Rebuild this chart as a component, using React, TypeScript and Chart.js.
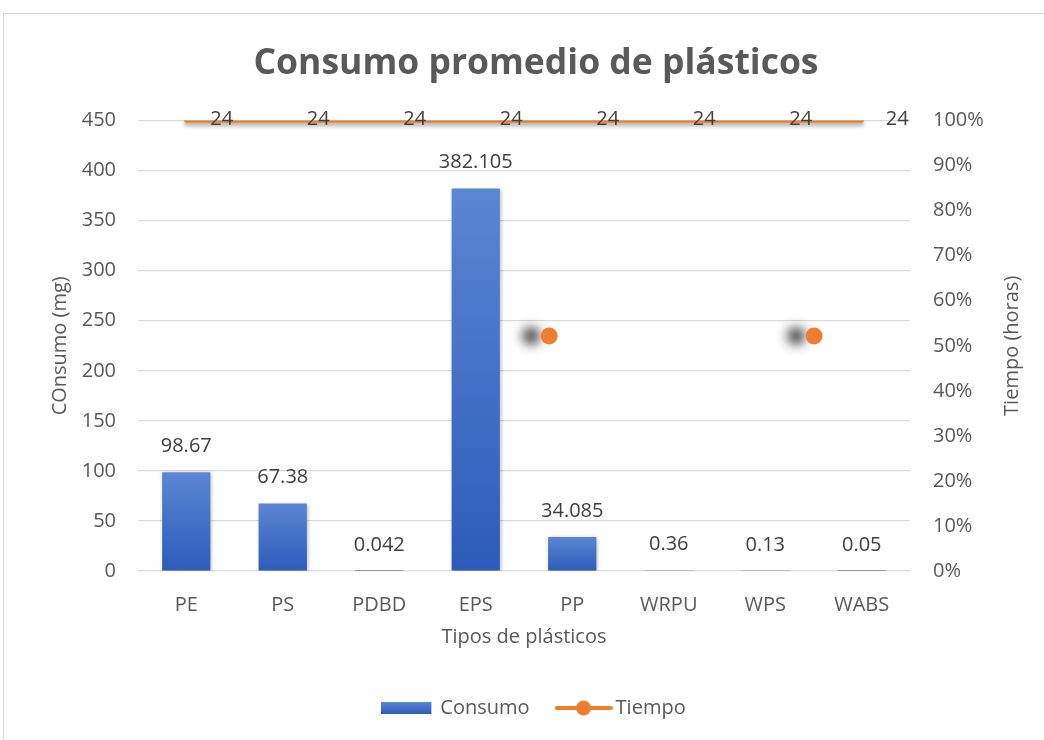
import React, { useEffect, useRef } from 'react';
import { Chart, registerables } from 'chart.js';

Chart.register(...registerables);

// ---- data ----
const categories = ['PE', 'PS', 'PDBD', 'EPS', 'PP', 'WRPU', 'WPS', 'WABS'];
const consumo = [98.67, 67.38, 0.042, 382.105, 34.085, 0.36, 0.13, 0.05];
const tiempo = [24, 24, 24, 24, 24, 24, 24, 24];
// stray markers visible in the picture (category-position, right-axis fraction)
const strayX = [3.79, 6.84];
const strayY = [0.522, 0.522];

const leftMin = 0;
const leftMax = 450;
const leftStep = 50;
const rightMin = 0;
const rightMax = 1;
const rightStep = 0.1;

const FONT = "'Open Sans', sans-serif";
const TEXT = '#595959';
const LABEL = '#404040';
const ORANGE = '#ED7D31';
const BLUE_TOP = '#5B86D3';
const BLUE_BOTTOM = '#2D5BB9';

const shadowPlugin = {
  id: 'dsShadow',
  beforeDatasetDraw(chart: any, args: any) {
    const s = chart.data.datasets[args.index]?.shadow;
    if (!s) return;
    const ctx = chart.ctx;
    ctx.save();
    ctx.shadowColor = s.color;
    ctx.shadowBlur = s.blur;
    ctx.shadowOffsetX = s.x;
    ctx.shadowOffsetY = s.y;
  },
  afterDatasetDraw(chart: any, args: any) {
    const s = chart.data.datasets[args.index]?.shadow;
    if (!s) return;
    chart.ctx.restore();
  },
};

const labelPlugin = {
  id: 'valueLabels',
  afterDatasetsDraw(chart: any) {
    const ctx = chart.ctx;
    ctx.save();
    ctx.font = `20px ${FONT}`;
    ctx.fillStyle = LABEL;
    ctx.textBaseline = 'middle';
    ctx.textAlign = 'center';
    const bars = chart.getDatasetMeta(0).data;
    bars.forEach((b: any, i: number) => {
      ctx.fillText(String(consumo[i]), b.x, b.y - 26);
    });
    ctx.textAlign = 'left';
    const pts = chart.getDatasetMeta(1).data;
    pts.forEach((p: any, i: number) => {
      ctx.fillText(String(tiempo[i]), p.x + 24, p.y - 1);
    });
    // right axis title (reads bottom-to-top)
    const y2 = chart.scales.y2;
    const area = chart.chartArea;
    ctx.translate(y2.right - 16, (area.top + area.bottom) / 2);
    ctx.rotate(-Math.PI / 2);
    ctx.textAlign = 'center';
    ctx.fillStyle = TEXT;
    ctx.fillText('Tiempo (horas)', 0, 0);
    ctx.restore();
  },
};

function makeBarSwatch(): HTMLCanvasElement {
  const c = document.createElement('canvas');
  c.width = 54;
  c.height = 12;
  const g = c.getContext('2d')!;
  const grad = g.createLinearGradient(0, 0, 0, 12);
  grad.addColorStop(0, BLUE_TOP);
  grad.addColorStop(1, BLUE_BOTTOM);
  g.fillStyle = grad;
  g.fillRect(0, 0, 50, 12);
  return c;
}

function makeLineSwatch(): HTMLCanvasElement {
  const c = document.createElement('canvas');
  c.width = 58;
  c.height = 18;
  const g = c.getContext('2d')!;
  g.strokeStyle = ORANGE;
  g.lineWidth = 4;
  g.lineCap = 'round';
  g.beginPath();
  g.moveTo(2, 9);
  g.lineTo(56, 9);
  g.stroke();
  g.fillStyle = ORANGE;
  g.beginPath();
  g.arc(29, 9, 7.5, 0, Math.PI * 2);
  g.fill();
  return c;
}

export default function App() {
  const ref = useRef<HTMLCanvasElement | null>(null);

  useEffect(() => {
    if (!ref.current) return;
    const barSwatch = makeBarSwatch();
    const lineSwatch = makeLineSwatch();

    const chart = new Chart(ref.current, {
      type: 'bar',
      data: {
        labels: categories,
        datasets: [
          {
            type: 'bar',
            label: 'Consumo',
            data: consumo,
            xAxisID: 'x',
            yAxisID: 'y',
            grouped: false,
            barPercentage: 0.5,
            categoryPercentage: 1,
            borderWidth: 0,
            shadow: { color: 'rgba(0,0,0,0.28)', blur: 4, x: 1, y: 1 },
            backgroundColor: (ctx: any) => {
              const chart = ctx.chart;
              if (!chart.chartArea || ctx.type !== 'data') return '#4472C4';
              const ys = chart.scales.y;
              const top = ys.getPixelForValue(ctx.raw);
              const bottom = ys.getPixelForValue(0);
              if (bottom - top < 1) return '#3A67C0';
              const g = chart.ctx.createLinearGradient(0, top, 0, bottom);
              g.addColorStop(0, BLUE_TOP);
              g.addColorStop(1, BLUE_BOTTOM);
              return g;
            },
          } as any,
          {
            type: 'line',
            label: 'Tiempo',
            data: tiempo.map((v) => Math.min(v, rightMax)),
            xAxisID: 'x',
            yAxisID: 'y2',
            borderColor: ORANGE,
            backgroundColor: ORANGE,
            borderWidth: 4.5,
            pointRadius: 0,
            borderCapStyle: 'round',
            shadow: { color: 'rgba(0,0,0,0.35)', blur: 4, x: 0, y: 3 },
          } as any,
          {
            type: 'scatter',
            label: 'marks',
            data: strayX.map((x, i) => ({ x, y: strayY[i] })),
            xAxisID: 'x2',
            yAxisID: 'y2',
            pointRadius: 8.5,
            pointBackgroundColor: ORANGE,
            pointBorderWidth: 0,
            showLine: false,
            shadow: { color: 'rgba(40,40,40,0.95)', blur: 12, x: -18, y: 0 },
          } as any,
        ],
      },
      options: {
        responsive: false,
        animation: false,
        events: [],
        layout: { padding: { left: 44, right: 16, top: 0, bottom: 12 } },
        font: { family: FONT },
        scales: {
          x: {
            type: 'category',
            position: 'bottom',
            offset: true,
            grid: { display: false },
            border: { display: false },
            ticks: { color: TEXT, font: { family: FONT, size: 20 }, padding: 14 },
            title: {
              display: true,
              text: 'Tipos de plásticos',
              color: TEXT,
              font: { family: FONT, size: 20 },
              padding: { top: 4, bottom: 17 },
            },
            afterFit: (s: any) => {
              s.height = 95;
            },
          },
          x2: {
            type: 'linear',
            display: false,
            min: -0.5,
            max: categories.length - 0.5,
          },
          y: {
            type: 'linear',
            position: 'left',
            min: leftMin,
            max: leftMax,
            ticks: { stepSize: leftStep, color: TEXT, font: { family: FONT, size: 20 }, padding: 22 },
            grid: { color: '#D9D9D9', lineWidth: 1.2, drawTicks: false },
            border: { display: false },
            title: {
              display: true,
              text: 'COnsumo (mg)',
              color: TEXT,
              font: { family: FONT, size: 20 },
              padding: { top: 4, bottom: 4 },
            },
            afterFit: (s: any) => {
              s.width = 94;
            },
          },
          y2: {
            type: 'linear',
            position: 'right',
            min: rightMin,
            max: rightMax,
            ticks: {
              stepSize: rightStep,
              color: TEXT,
              font: { family: FONT, size: 20 },
              padding: 23,
              callback: (v: any) => `${Math.round(Number(v) * 100)}%`,
            },
            grid: { display: false, drawTicks: false },
            border: { display: false },
            afterFit: (s: any) => {
              s.width = 118;
            },
          },
        },
        plugins: {
          tooltip: { enabled: false },
          title: {
            display: true,
            text: 'Consumo promedio de plásticos',
            color: TEXT,
            font: { family: FONT, size: 35.5, weight: 'bold', lineHeight: 1.2 },
            padding: { top: 43, bottom: 35 },
          },
          legend: {
            display: true,
            position: 'bottom',
            labels: {
              usePointStyle: true,
              pointStyleWidth: 44,
              padding: 32,
              color: TEXT,
              font: { family: FONT, size: 20 },
              generateLabels: () => [
                { text: 'Consumo', pointStyle: barSwatch, fontColor: TEXT, datasetIndex: 0, hidden: false, lineWidth: 0 } as any,
                { text: 'Tiempo', pointStyle: lineSwatch, fontColor: TEXT, datasetIndex: 1, hidden: false, lineWidth: 0 } as any,
              ],
            },
          },
        },
      } as any,
      plugins: [shadowPlugin, labelPlugin],
    });
    return () => chart.destroy();
  }, []);

  return (
    <div style={{ position: 'fixed', left: 0, top: 0, width: 1044, height: 740, overflow: 'hidden', background: '#fff' }}>
      <div
        style={{
          position: 'absolute',
          left: 3,
          top: 13,
          width: 1100,
          height: 800,
          border: '1px solid #D9D9D9',
          boxSizing: 'border-box',
        }}
      />
      <canvas ref={ref} width={1044} height={740} style={{ position: 'absolute', left: 0, top: 0, width: 1044, height: 740 }} />
    </div>
  );
}
